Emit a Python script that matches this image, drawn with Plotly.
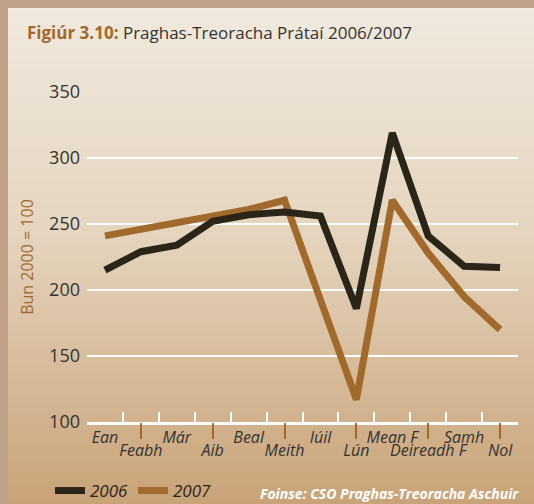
import base64, struct, zlib
import plotly.graph_objects as go

months = ["Ean", "Feabh", "Már", "Aib", "Beal", "Meith", "Iúil", "Lún",
          "Mean F", "Deireadh F", "Samh", "Nol"]
values_2006 = [215, 229, 234, 252, 257, 259, 256, 186, 319, 241, 218, 217]
values_2007 = [241, 246, 251, 256, 261, 268, 192, 117, 268, 228, 195, 170]
y_ticks = [100, 150, 200, 250, 300, 350]

W, H = 534, 504
ML, MR, MT, MB = 87, 16, 92, 82
PW, PH = W - ML - MR, H - MT - MB

FONT = "Open Sans"
DARK = "#2b2419"
BROWN = "#a2692c"
TEXT = "#333333"

# vertical gradient background for the panel (PNG data uri)
def lerp(a, b, t):
    return tuple(int(round(a[i] + (b[i] - a[i]) * t)) for i in range(3))

stops = [(0.0, (240, 233, 222)), (0.45, (229, 213, 191)), (1.0, (201, 163, 120))]
rows = []
n = 256
for k in range(n):
    t = k / (n - 1)
    for j in range(len(stops) - 1):
        if stops[j][0] <= t <= stops[j + 1][0]:
            tt = (t - stops[j][0]) / (stops[j + 1][0] - stops[j][0])
            c = lerp(stops[j][1], stops[j + 1][1], tt)
            break
    rows.append(b"\x00" + bytes(c))
raw = b"".join(rows)

def chunk(tag, data):
    return struct.pack(">I", len(data)) + tag + data + struct.pack(">I", zlib.crc32(tag + data) & 0xffffffff)

png = b"\x89PNG\r\n\x1a\n" + chunk(b"IHDR", struct.pack(">IIBBBBB", 1, n, 8, 2, 0, 0, 0)) \
    + chunk(b"IDAT", zlib.compress(raw)) + chunk(b"IEND", b"")
uri = "data:image/png;base64," + base64.b64encode(png).decode()

def px_x(px):
    return (px - ML) / PW

def px_y(py):
    return (H - MB - py) / PH

fig = go.Figure()
fig.add_trace(go.Scatter(x=months, y=values_2007, name="2007", mode="lines",
                         line=dict(color=BROWN, width=7), legendrank=2))
fig.add_trace(go.Scatter(x=months, y=values_2006, name="2006", mode="lines",
                         line=dict(color=DARK, width=7), legendrank=1))

idx = list(range(len(months)))
fig.update_layout(
    width=W, height=H,
    margin=dict(l=ML, r=MR, t=MT, b=MB, autoexpand=False),
    paper_bgcolor="#bfa187",
    plot_bgcolor="rgba(0,0,0,0)",
    font=dict(family=FONT, color=TEXT),
    images=[dict(source=uri, xref="paper", yref="paper",
                 x=px_x(8), y=px_y(8), sizex=px_x(W) - px_x(8), sizey=px_y(8) - px_y(H),
                 xanchor="left", yanchor="top", sizing="stretch", layer="below")],
    title=dict(text="<b><span style='color:#a2692c'>Figiúr 3.10:</span></b> Praghas-Treoracha Prátaí 2006/2007",
               xref="container", yref="container", x=27 / W, y=1 - 33 / H,
               xanchor="left", yanchor="middle",
               font=dict(family=FONT, size=17, color=TEXT)),
    xaxis=dict(type="category", categoryorder="array", categoryarray=months,
               range=[-0.5, len(months) - 0.5], showgrid=False, zeroline=False,
               showline=True, linecolor="white", linewidth=3,
               ticks="inside", tickson="boundaries", tickcolor="white",
               ticklen=10, tickwidth=2, showticklabels=False),
    xaxis2=dict(overlaying="x", anchor="y", side="bottom", type="linear",
                range=[-0.5, len(months) - 0.5], showgrid=False, zeroline=False,
                showline=False, tickmode="array", tickvals=idx[0::2], ticktext=months[0::2],
                ticks="", tickfont=dict(family=FONT, size=16, color=TEXT, style="italic"),
                ticklabelstandoff=4),
    xaxis3=dict(overlaying="x", anchor="y", side="bottom", type="linear",
                range=[-0.5, len(months) - 0.5], showgrid=False, zeroline=False,
                showline=False, tickmode="array", tickvals=idx[1::2], ticktext=months[1::2],
                ticks="outside", ticklen=16, tickwidth=1.5, tickcolor=BROWN,
                tickfont=dict(family=FONT, size=16, color=TEXT, style="italic"),
                ticklabelstandoff=-2),
    yaxis=dict(range=[100, 350], tickmode="array", tickvals=y_ticks,
               showgrid=True, gridcolor="white", gridwidth=2, zeroline=False,
               showline=False, ticks="", tickfont=dict(family=FONT, size=18, color=TEXT),
               ticklabelstandoff=6,
               title=dict(text="Bun 2000 = 100", standoff=11,
                          font=dict(family=FONT, size=16, color=BROWN))),
    legend=dict(orientation="h", xref="container", yref="container",
                x=50 / W, y=1 - 491 / H, xanchor="left", yanchor="middle",
                bgcolor="rgba(0,0,0,0)", font=dict(family=FONT, size=17, color=DARK, style="italic"),
                itemwidth=30, tracegroupgap=0, entrywidth=38),
    annotations=[dict(text="<b><i>Foinse: CSO Praghas-Treoracha Aschuir</i></b>",
                      xref="paper", yref="paper", x=px_x(521), y=px_y(493),
                      xanchor="right", yanchor="middle", showarrow=False,
                      font=dict(family=FONT, size=14, color="white"))],
)
# empty traces to activate overlay axes
fig.add_trace(go.Scatter(x=[], y=[], xaxis="x2", showlegend=False, hoverinfo="skip"))
fig.add_trace(go.Scatter(x=[], y=[], xaxis="x3", showlegend=False, hoverinfo="skip"))

fig.write_html("out.html", config={"displayModeBar": False},
               post_script="document.body.style.margin='0';")
